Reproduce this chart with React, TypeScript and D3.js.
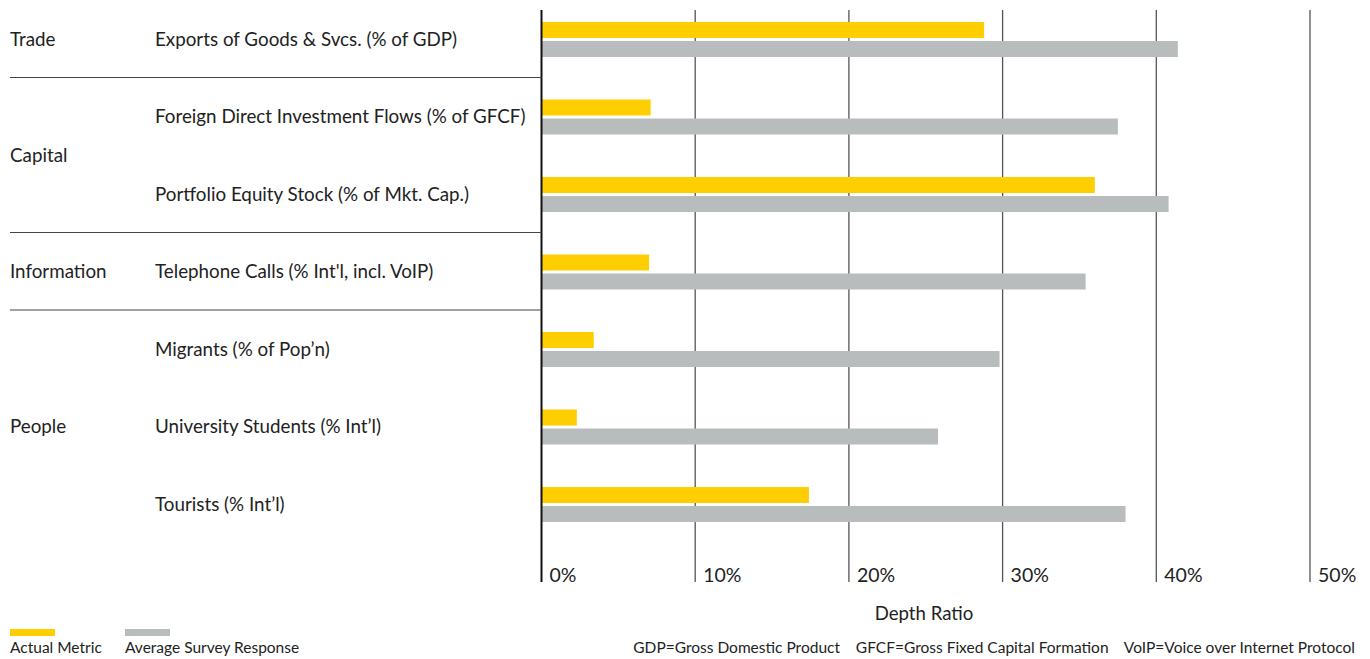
import React from "react";
import * as d3 from "d3";

const categories = [
  "Exports of Goods & Svcs. (% of GDP)",
  "Foreign Direct Investment Flows (% of GFCF)",
  "Portfolio Equity Stock (% of Mkt. Cap.)",
  "Telephone Calls (% Int'l, incl. VoIP)",
  "Migrants (% of Pop’n)",
  "University Students (% Int’l)",
  "Tourists (% Int’l)",
];
const actualMetric = [28.8, 7.1, 36.0, 7.0, 3.4, 2.3, 17.4];
const surveyResponse = [41.4, 37.5, 40.8, 35.4, 29.8, 25.8, 38.0];
const groups = [
  { name: "Trade", first: 0, last: 0 },
  { name: "Capital", first: 1, last: 2 },
  { name: "Information", first: 3, last: 3 },
  { name: "People", first: 4, last: 6 },
];
const ticks = [0, 10, 20, 30, 40, 50];
const footnote = "GDP=Gross Domestic Product    GFCF=Gross Fixed Capital Formation    VoIP=Voice over Internet Protocol";

const YELLOW = "#FFCE00";
const GRAY = "#B9BCBD";
const FONT = "Lato, 'Open Sans', sans-serif";

export default function App() {
  const W = 1370, H = 659;
  const x = d3.scaleLinear().domain([0, 50]).range([541.5, 1310]);
  const y = d3.scaleBand<string>().domain(categories).range([22, 22 + 7 * 77.5]).paddingInner(0).paddingOuter(0);
  const barH = 16;
  const top = 10, bottom = 582;

  return (
    <svg width={W} height={H} style={{ position: "absolute", left: 0, top: 0, fontFamily: FONT }}>
      {ticks.slice(1).map((t) => (
        <line key={t} x1={x(t)} x2={x(t)} y1={top} y2={bottom} stroke="#555" strokeWidth={1.3} />
      ))}
      {categories.map((c, i) => (
        <g key={c}>
          <rect x={x(0)} y={y(c)!} width={x(actualMetric[i]) - x(0)} height={barH} fill={YELLOW} />
          <rect x={x(0)} y={y(c)! + 19} width={x(surveyResponse[i]) - x(0)} height={barH} fill={GRAY} />
          <text x={155} y={y(c)! + 19} dominantBaseline="middle" fontSize={18.8} fill="#222">{c}</text>
        </g>
      ))}
      <line x1={x(0)} x2={x(0)} y1={top} y2={bottom} stroke="#111" strokeWidth={2} />
      {groups.slice(1).map((g) => (
        <line key={g.name} x1={10} x2={x(0)} y1={y(categories[g.first])! - 22} y2={y(categories[g.first])! - 22} stroke="#444" strokeWidth={1.2} />
      ))}
      {groups.map((g) => {
        const cy = (y(categories[g.first])! + y(categories[g.last])! + 38) / 2;
        return (
          <text key={g.name} x={10} y={cy} dominantBaseline="middle" fontSize={18.8} fill="#222">{g.name}</text>
        );
      })}
      {ticks.map((t) => (
        <text key={t} x={x(t) + 8} y={577} dominantBaseline="middle" fontSize={19.5} fill="#222">{t}%</text>
      ))}
      <text x={924} y={615} textAnchor="middle" dominantBaseline="middle" fontSize={18.6} fill="#222">Depth Ratio</text>
      <text x={1355} y={649} textAnchor="end" dominantBaseline="middle" fontSize={15.5} fill="#222" style={{ whiteSpace: "pre" }}>{footnote}</text>
      <rect x={10} y={629} width={45} height={7} fill={YELLOW} />
      <text x={10} y={649} dominantBaseline="middle" fontSize={15.5} fill="#222">Actual Metric</text>
      <rect x={125} y={629} width={45} height={7} fill={GRAY} />
      <text x={125} y={649} dominantBaseline="middle" fontSize={15.5} fill="#222">Average Survey Response</text>
    </svg>
  );
}
